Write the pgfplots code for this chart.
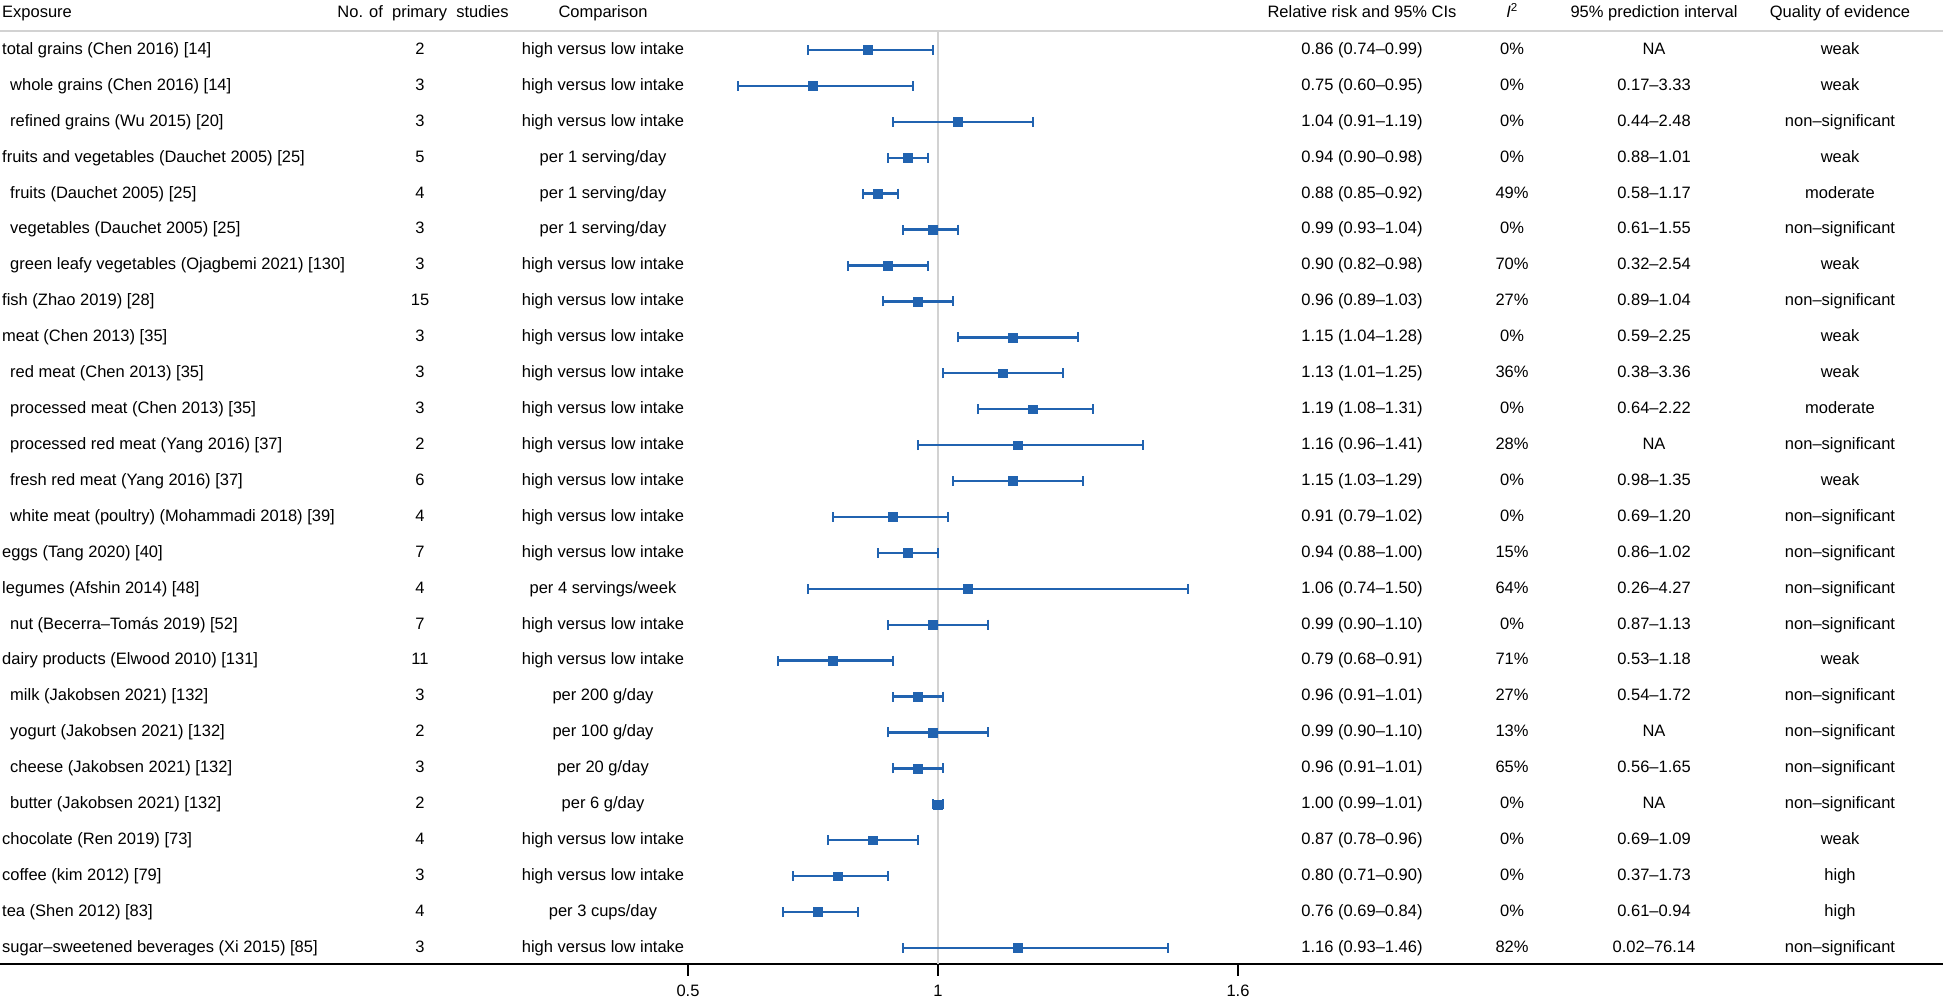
\documentclass[border=0pt]{standalone}
\usepackage{fontspec}
\setmainfont{Liberation Sans}
\usepackage{pgfplots}
\usepackage{pgfplotstable}
\pgfplotsset{compat=1.18}
\definecolor{fpblue}{RGB}{33,99,176}

% row, indent flag, exposure, studies, comparison, RR and CI, I2, prediction interval, quality
\pgfplotstableread[col sep=comma]{
row,ind,expo,n,comp,rr,lo,hi,rrtxt,isq,pi,qual
1,0,total grains (Chen 2016) [14],2,high versus low intake,0.86,0.74,0.99,0.86 (0.74–0.99),0\%,NA,weak
2,1,whole grains (Chen 2016) [14],3,high versus low intake,0.75,0.60,0.95,0.75 (0.60–0.95),0\%,0.17–3.33,weak
3,1,refined grains (Wu 2015) [20],3,high versus low intake,1.04,0.91,1.19,1.04 (0.91–1.19),0\%,0.44–2.48,non–significant
4,0,fruits and vegetables (Dauchet 2005) [25],5,per 1 serving/day,0.94,0.90,0.98,0.94 (0.90–0.98),0\%,0.88–1.01,weak
5,1,fruits (Dauchet 2005) [25],4,per 1 serving/day,0.88,0.85,0.92,0.88 (0.85–0.92),49\%,0.58–1.17,moderate
6,1,vegetables (Dauchet 2005) [25],3,per 1 serving/day,0.99,0.93,1.04,0.99 (0.93–1.04),0\%,0.61–1.55,non–significant
7,1,green leafy vegetables (Ojagbemi 2021) [130],3,high versus low intake,0.90,0.82,0.98,0.90 (0.82–0.98),70\%,0.32–2.54,weak
8,0,fish (Zhao 2019) [28],15,high versus low intake,0.96,0.89,1.03,0.96 (0.89–1.03),27\%,0.89–1.04,non–significant
9,0,meat (Chen 2013) [35],3,high versus low intake,1.15,1.04,1.28,1.15 (1.04–1.28),0\%,0.59–2.25,weak
10,1,red meat (Chen 2013) [35],3,high versus low intake,1.13,1.01,1.25,1.13 (1.01–1.25),36\%,0.38–3.36,weak
11,1,processed meat (Chen 2013) [35],3,high versus low intake,1.19,1.08,1.31,1.19 (1.08–1.31),0\%,0.64–2.22,moderate
12,1,processed red meat (Yang 2016) [37],2,high versus low intake,1.16,0.96,1.41,1.16 (0.96–1.41),28\%,NA,non–significant
13,1,fresh red meat (Yang 2016) [37],6,high versus low intake,1.15,1.03,1.29,1.15 (1.03–1.29),0\%,0.98–1.35,weak
14,1,white meat (poultry) (Mohammadi 2018) [39],4,high versus low intake,0.91,0.79,1.02,0.91 (0.79–1.02),0\%,0.69–1.20,non–significant
15,0,eggs (Tang 2020) [40],7,high versus low intake,0.94,0.88,1.00,0.94 (0.88–1.00),15\%,0.86–1.02,non–significant
16,0,legumes (Afshin 2014) [48],4,per 4 servings/week,1.06,0.74,1.50,1.06 (0.74–1.50),64\%,0.26–4.27,non–significant
17,1,nut (Becerra–Tomás 2019) [52],7,high versus low intake,0.99,0.90,1.10,0.99 (0.90–1.10),0\%,0.87–1.13,non–significant
18,0,dairy products (Elwood 2010) [131],11,high versus low intake,0.79,0.68,0.91,0.79 (0.68–0.91),71\%,0.53–1.18,weak
19,1,milk (Jakobsen 2021) [132],3,per 200 g/day,0.96,0.91,1.01,0.96 (0.91–1.01),27\%,0.54–1.72,non–significant
20,1,yogurt (Jakobsen 2021) [132],2,per 100 g/day,0.99,0.90,1.10,0.99 (0.90–1.10),13\%,NA,non–significant
21,1,cheese (Jakobsen 2021) [132],3,per 20 g/day,0.96,0.91,1.01,0.96 (0.91–1.01),65\%,0.56–1.65,non–significant
22,1,butter (Jakobsen 2021) [132],2,per 6 g/day,1.00,0.99,1.01,1.00 (0.99–1.01),0\%,NA,non–significant
23,0,chocolate (Ren 2019) [73],4,high versus low intake,0.87,0.78,0.96,0.87 (0.78–0.96),0\%,0.69–1.09,weak
24,0,coffee (kim 2012) [79],3,high versus low intake,0.80,0.71,0.90,0.80 (0.71–0.90),0\%,0.37–1.73,high
25,0,tea (Shen 2012) [83],4,per 3 cups/day,0.76,0.69,0.84,0.76 (0.69–0.84),0\%,0.61–0.94,high
26,0,sugar–sweetened beverages (Xi 2015) [85],3,high versus low intake,1.16,0.93,1.46,1.16 (0.93–1.46),82\%,0.02–76.14,non–significant
}\data

\begin{document}
\fontsize{16.5}{19.8}\selectfont
\begin{tikzpicture}
\begin{axis}[
  scale only axis,
  width=1943pt, height=933pt,
  xmin=-0.876, xmax=3.01,
  ymin=-26.445, ymax=-0.471,
  axis x line*=bottom,
  axis y line=none,
  axis line style={line width=2.7pt, black},
  xtick={0.5,1,1.6}, ytick=\empty,
  tick align=outside,
  major tick length=12pt,
  tick style={line width=1.3pt, black},
  xticklabel style={yshift=-3pt},
  /pgf/number format/assume math mode=true,
  clip=false,
  txt/.style={draw=none, mark=none, nodes near coords, point meta=explicit symbolic,
    every node near coord/.append style={anchor=mid, inner sep=0pt, text=black}},
]
\coordinate (tl) at (rel axis cs:0,1);
\coordinate (br) at (rel axis cs:1,0);

% reference line and header rule
\addplot[gray!35, line width=2pt] coordinates {(1,-0.471) (1,-26.445)};
\draw[gray!35, line width=2.5pt] (rel axis cs:0,1) -- (rel axis cs:1,1);

% estimates with 95% CIs
\addplot[fpblue, only marks, mark=square*, mark size=4.4pt,
  error bars/.cd, x dir=both, x explicit, error mark=|,
  error bar style={line width=2.4pt},
  error mark options={line width=2.5pt, mark size=5pt}]
  table[x=rr, y expr=-\thisrow{row},
    x error plus expr=\thisrow{hi}-\thisrow{rr},
    x error minus expr=\thisrow{rr}-\thisrow{lo}] {\data};

% text columns
\addplot[txt, every node near coord/.append style={anchor=mid west}]
  table[x expr=-0.872+0.016*\thisrow{ind}, y expr=-\thisrow{row}, meta=expo] {\data};
\addplot[txt] table[x expr=-0.036, y expr=-\thisrow{row}, meta=n] {\data};
\addplot[txt] table[x expr=0.330, y expr=-\thisrow{row}, meta=comp] {\data};
\addplot[txt] table[x expr=1.848, y expr=-\thisrow{row}, meta=rrtxt] {\data};
\addplot[txt] table[x expr=2.148, y expr=-\thisrow{row}, meta=isq] {\data};
\addplot[txt] table[x expr=2.432, y expr=-\thisrow{row}, meta=pi] {\data};
\addplot[txt] table[x expr=2.804, y expr=-\thisrow{row}, meta=qual] {\data};

% header
\node[anchor=mid west, inner sep=0pt] at (axis cs:-0.872,0.03) {Exposure};
\node[anchor=mid, inner sep=0pt] at (axis cs:-0.03,0.03) {No. of~ primary~ studies};
\node[anchor=mid, inner sep=0pt] at (axis cs:0.330,0.03) {Comparison};
\node[anchor=mid, inner sep=0pt] at (axis cs:1.848,0.03) {Relative risk and 95\% CIs};
\node[anchor=mid, inner sep=0pt] at (axis cs:2.148,0.03) {\textit{I}\textsuperscript{2}};
\node[anchor=mid, inner sep=0pt] at (axis cs:2.432,0.03) {95\% prediction interval};
\node[anchor=mid, inner sep=0pt] at (axis cs:2.804,0.03) {Quality of evidence};
\end{axis}
\pgfresetboundingbox
\path[use as bounding box] ([yshift=31pt]tl) rectangle ([yshift=-40pt]br);
\end{tikzpicture}
\end{document}
